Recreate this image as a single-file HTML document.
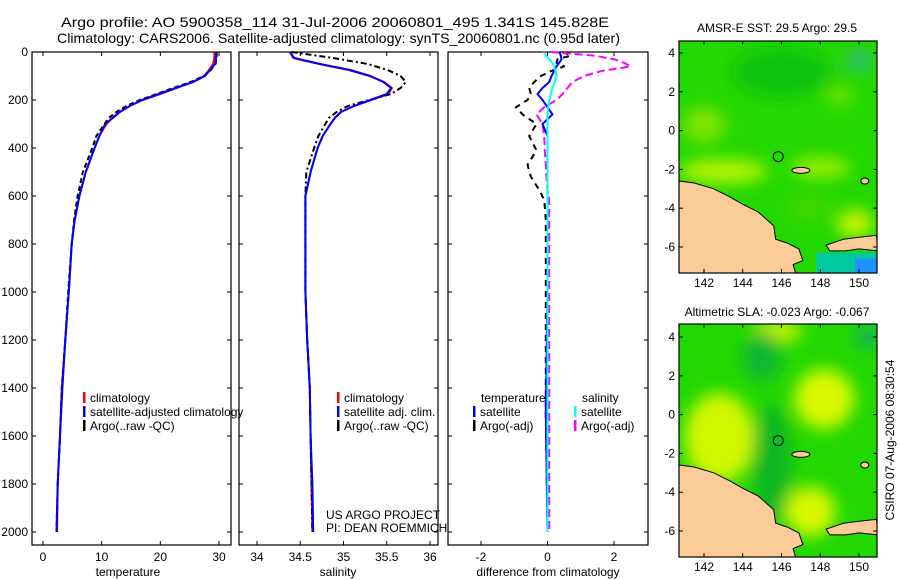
<!DOCTYPE html>
<html><head><meta charset="utf-8"><style>
html,body{margin:0;padding:0;background:#fff;}
svg{display:block;font-family:"Liberation Sans",sans-serif;font-size:12px;}
</style></head><body>
<svg id="c" width="900" height="580" viewBox="0 0 900 580">
<defs>
<filter id="blur" x="-50%" y="-50%" width="200%" height="200%"><feGaussianBlur stdDeviation="8"/></filter>
<clipPath id="m1clip"><rect x="679" y="41" width="198" height="232"/></clipPath>
<clipPath id="m2clip"><rect x="679" y="324" width="198" height="233"/></clipPath>
</defs>
<text x="61" y="27" font-size="14" textLength="548" lengthAdjust="spacingAndGlyphs">Argo profile: AO 5900358_114 31-Jul-2006 20060801_495 1.341S 145.828E</text>
<text x="57" y="43" font-size="14" textLength="563" lengthAdjust="spacingAndGlyphs">Climatology: CARS2006. Satellite-adjusted climatology: synTS_20060801.nc (0.95d later)</text>
<g id="plots"></g>
<text x="128" y="576" text-anchor="middle">temperature</text>
<text x="338" y="576" text-anchor="middle">salinity</text>
<text x="548" y="576" text-anchor="middle">difference from climatology</text>
<text x="326" y="519">US ARGO PROJECT</text>
<text x="326" y="532">PI: DEAN ROEMMICH</text>
<text x="777" y="32" text-anchor="middle">AMSR-E SST: 29.5 Argo: 29.5</text>
<text x="777" y="316" text-anchor="middle">Altimetric SLA: -0.023 Argo: -0.067</text>
<text transform="translate(894,440) rotate(-90)" text-anchor="middle">CSIRO 07-Aug-2006 08:30:54</text>
</svg>
<script>
const depths = [0,25,50,75,100,125,150,175,200,225,250,275,300,350,400,500,600,700,800,1000,1200,1400,1600,1800,2000];
const tempClim = [29.2,29.2,29.0,28.3,27.5,25.5,22.8,20,17,14.8,13,11.8,10.8,9.6,8.8,7.3,6.2,5.4,4.9,4.4,3.8,3.2,2.9,2.5,2.4];
const tempSat  = [29.5,29.5,29.3,28.5,27.6,25.6,22.6,19.7,16.9,14.8,13.1,11.9,10.6,9.6,8.8,7.3,6.2,5.4,4.9,4.4,3.8,3.3,2.9,2.5,2.3];
const tempArgo = [29.6,29.6,29.4,28.6,27.4,25.2,22.2,19.4,16.5,14.2,12.5,11.2,10.5,9.1,8.4,6.8,5.9,5.3,4.9,4.3,3.8,3.2,2.9,2.5,2.3];
const salClim = [34.38,34.42,34.72,35.06,35.30,35.47,35.56,35.52,35.32,35.12,34.97,34.9,34.85,34.76,34.70,34.62,34.56,34.56,34.56,34.56,34.58,34.61,34.62,34.63,34.64];
const salSat  = [34.38,34.43,34.73,35.08,35.31,35.46,35.55,35.50,35.31,35.12,34.97,34.9,34.85,34.76,34.70,34.62,34.56,34.56,34.56,34.56,34.58,34.61,34.62,34.64,34.65];
const salArgo = [34.40,34.88,35.28,35.51,35.66,35.72,35.66,35.55,35.30,35.05,34.92,34.83,34.79,34.71,34.66,34.57,34.56,34.56,34.56,34.56,34.58,34.61,34.62,34.63,34.64];
const diffDepths = [0,15,30,45,60,80,100,125,150,175,200,230,260,300,350,410,470,520,575,615,700,1000,1500,2000];
const dTempSat  = [0.36,0.40,0.42,0.35,0.27,0.2,0.12,0.05,-0.15,-0.3,-0.15,0,0.15,-0.15,0,0,0,0,0,0,0,0,-0.05,0];
const dTempArgo = [0.45,0.7,0.3,0.27,0.5,0.1,-0.2,-0.4,-0.55,-0.5,-0.6,-0.95,-0.75,-0.33,-0.55,-0.33,-0.6,-0.5,-0.25,-0.1,-0.05,-0.05,-0.05,0];
const dSalSat   = [-0.12,-0.05,0.05,0.15,0.2,0.24,0.27,0.22,0.15,0.1,0.06,0.02,0,0,0,0,0,0,0,0,0,0,0,0];
const dSalArgo  = [0.1,1.4,2.0,2.3,2.5,1.6,1.1,0.75,0.6,0.45,0.27,-0.1,-0.33,-0.15,-0.1,-0.08,-0.05,-0.03,0,0.05,0.05,0.05,0.05,0.05];
const depthTicks = [0,200,400,600,800,1000,1200,1400,1600,1800,2000];
const tempTicks = [0,10,20,30];
const salTicks = [34,34.5,35,35.5,36];
const diffTicks = [-2,0,2];
const lonTicks = [142,144,146,148,150];
const latTicks = [4,2,0,-2,-4,-6];

const NS='http://www.w3.org/2000/svg';
const root=document.getElementById('plots');
function el(tag,attrs,parent){const e=document.createElementNS(NS,tag);for(const k in attrs)e.setAttribute(k,attrs[k]);(parent||root).appendChild(e);return e;}
const yD = d => 52 + d*0.24;
function lin(d0,d1,r0,r1){return v=>r0+(v-d0)*(r1-r0)/(d1-d0);}

function panel(name,x0,x1,xs,ticks){
  const g=el('g',{});
  
  
  el('rect',{x:x0,y:52,width:x1-x0,height:493,fill:'none',stroke:'#000','stroke-width':1.2},g);
  depthTicks.forEach(d=>{
    el('line',{x1:x0,x2:x0+4,y1:yD(d),y2:yD(d),stroke:'#000'},g);
    el('line',{x1:x1-4,x2:x1,y1:yD(d),y2:yD(d),stroke:'#000'},g);
  });
  ticks.forEach(t=>{
    const x=xs(t);
    el('line',{x1:x,x2:x,y1:52,y2:56,stroke:'#000'},g);
    el('line',{x1:x,x2:x,y1:541,y2:545,stroke:'#000'},g);
    const tx=el('text',{x:x,y:561,'text-anchor':'middle'},g);tx.textContent=t;
  });
  return g;
}
function line(g,name,xs,vals,ds,color,dash,w){
  const p=el('path',{d:vals.map((v,i)=>(i?'L':'M')+xs(v).toFixed(1)+' '+yD(ds[i]).toFixed(1)).join(' '),fill:'none',stroke:color,'stroke-width':w||2,'stroke-dasharray':dash||'none','stroke-linejoin':'round'},g);
  
  
}
function legend(g,x,y,color,label,name){
  el('rect',{x:x,y:y-10,width:2.5,height:11,fill:color},g);
  const t=el('text',{x:x+7,y:y},g);t.textContent=label;
  
  
}

const xT=lin(0,30,43,219);
const gT=panel('temperature-panel',32,231,xT,tempTicks);
depthTicks.forEach(d=>{const t=el('text',{x:28,y:yD(d)+4,'text-anchor':'end'},gT);t.textContent=d;});
line(gT,'temperature-climatology-line',xT,tempClim,depths,'#f00');
line(gT,'temperature-argo-line',xT,tempArgo,depths,'#000','5 3');
line(gT,'temperature-satellite-line',xT,tempSat,depths,'#00f');
legend(gT,83,402,'#f00','climatology','legend-climatology');
legend(gT,83,416,'#00f','satellite-adjusted climatology','legend-satellite');
legend(gT,83,430,'#000','Argo(..raw -QC)','legend-argo');

const xS=lin(34,36,257,430);
const gS=panel('salinity-panel',239,438,xS,salTicks);
line(gS,'salinity-climatology-line',xS,salClim,depths,'#f00');
line(gS,'salinity-argo-line',xS,salArgo,depths,'#000','6 3 2 3');
line(gS,'salinity-satellite-line',xS,salSat,depths,'#00f');
legend(gS,337,402,'#f00','climatology','legend-sal-climatology');
legend(gS,337,416,'#00f','satellite adj. clim.','legend-sal-satellite');
legend(gS,337,430,'#000','Argo(..raw -QC)','legend-sal-argo');

const xDf=lin(-2,2,481,614);
const gD=panel('difference-panel',448,648,xDf,diffTicks);
line(gD,'temp-argo-diff-line',xDf,dTempArgo,diffDepths,'#000','6 5');
line(gD,'sal-argo-diff-line',xDf,dSalArgo,diffDepths,'#f0f','8 4');
line(gD,'temp-satellite-diff-line',xDf,dTempSat,diffDepths,'#00f');
line(gD,'sal-satellite-diff-line',xDf,dSalSat,diffDepths,'#0ff');
{const t=el('text',{x:481,y:402},gD);t.textContent='temperature';}
{const t=el('text',{x:582,y:402},gD);t.textContent='salinity';}
legend(gD,473,416,'#00f','satellite','legend-temp-satellite');
legend(gD,473,430,'#000','Argo(-adj)','legend-temp-argo');
legend(gD,574,416,'#0ff','satellite','legend-sal-satellite-diff');
legend(gD,574,430,'#f0f','Argo(-adj)','legend-sal-argo-diff');

const lonX=lin(142,150,704,859);
function map(name,top,bot,lat4y,lat6y,clip,blobs,blue){
  const latY=lin(4,-6,lat4y,lat6y);
  const g=el('g',{});
  
  
  const c=el('g',{'clip-path':'url(#'+clip+')'},g);
  el('rect',{x:679,y:top,width:198,height:bot-top,fill:'#22d800'},c);
  const bg=el('g',{filter:'url(#blur)'},c);
  blobs.forEach(b=>el('ellipse',{cx:lonX(b[0]),cy:latY(b[1]),rx:b[2],ry:b[3],fill:b[4]},bg));
  if(blue){el('rect',{x:lonX(147.8),y:latY(-6.3),width:80,height:40,fill:'#00c8a0'},c);
           el('rect',{x:lonX(149.8),y:latY(-6.6),width:30,height:30,fill:'#2090ff'},c);}
  const P=pts=>pts.map(p=>lonX(p[0]).toFixed(1)+','+latY(p[1]).toFixed(1)).join(' ');
  el('polygon',{points:P([[140.7,-2.6],[141.5,-2.7],[142.5,-3.0],[143.3,-3.4],[144,-3.8],[144.8,-4.2],[145.6,-4.9],[145.7,-5.6],[146.3,-5.8],[146.9,-6.1],[147.1,-6.7],[146.6,-6.9],[146.8,-7.6],[140.7,-7.6]]),fill:'#fccc98',stroke:'#000','stroke-width':1},c);
  el('polygon',{points:P([[148.3,-5.9],[149.2,-5.6],[150,-5.5],[150.9,-5.4],[151,-6.2],[150,-6.1],[149.3,-6.2],[148.5,-6.2]]),fill:'#fccc98',stroke:'#000','stroke-width':1},c);
  el('ellipse',{cx:lonX(147.0),cy:latY(-2.05),rx:9,ry:3,fill:'#fccc98',stroke:'#000'},c);
  el('ellipse',{cx:lonX(150.3),cy:latY(-2.6),rx:4,ry:3,fill:'#fccc98',stroke:'#000'},c);
  el('circle',{cx:lonX(145.83),cy:latY(-1.34),r:5,fill:'none',stroke:'#000'},c);
  el('rect',{x:679,y:top,width:198,height:bot-top,fill:'none',stroke:'#000','stroke-width':1.2},g);
  lonTicks.forEach(l=>{const x=lonX(l);
    el('line',{x1:x,x2:x,y1:top,y2:top+4,stroke:'#000'},g);
    el('line',{x1:x,x2:x,y1:bot-4,y2:bot,stroke:'#000'},g);
    const t=el('text',{x:x,y:bot+14,'text-anchor':'middle'},g);t.textContent=l;});
  latTicks.forEach(l=>{const y=latY(l);
    el('line',{x1:679,x2:683,y1:y,y2:y,stroke:'#000'},g);
    el('line',{x1:873,x2:877,y1:y,y2:y,stroke:'#000'},g);
    const t=el('text',{x:675,y:y+4,'text-anchor':'end'},g);t.textContent=l;});
}
map('sst-map',41,273,53,247,'m1clip',[
  [143,-2.1,45,12,'#b8f400'],[142,0.3,22,18,'#80e400'],[148,-1.9,30,10,'#a0ee00'],[149.8,-4.8,18,14,'#c8f400'],
  [146,3,50,25,'#10c410'],[150,3.6,14,10,'#30b880'],[149,1.8,14,10,'#70e000'],[147.5,-4,22,14,'#40d800']],true);
map('sla-map',324,557,337,531,'m2clip',[
  [142.8,-1.2,35,45,'#d0f800'],[148.2,0.8,30,30,'#d8f800'],[147.5,-5,25,25,'#d8f800'],[145.8,4.3,25,10,'#d0f800'],
  [145.5,-2.5,20,60,'#10b820'],[145,3,20,25,'#10b830'],[150.5,4,15,10,'#10b060']],false);
</script>
</body></html>
